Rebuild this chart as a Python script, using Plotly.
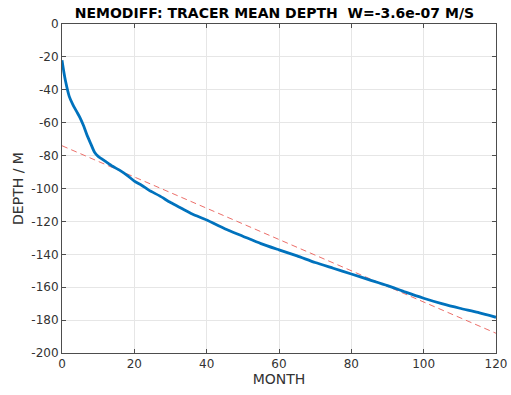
import plotly.graph_objects as go

months = [0, 0.5, 1, 2, 3, 4, 5, 6, 7, 8, 9, 10, 11, 12, 14, 16, 18, 20, 22, 24,
          27, 30, 33, 36, 40, 45, 50, 55, 60, 65, 70, 75, 80, 85, 90, 95, 100,
          105, 110, 115, 120]
depth = [-22, -29, -35, -44, -49, -53, -57, -62, -68, -73, -78, -80.5, -82, -83.5,
         -86.5, -89, -92, -95.5, -98, -101, -104.5, -108.5, -112, -115.5, -119.2,
         -124.5, -129, -133.5, -137.3, -141, -145, -148.5, -152, -155.5, -159,
         -163, -166.7, -170, -172.8, -175.3, -178.3]

fit_months = [0, 120]
fit_depth = [-74, -188]

x_ticks = [0, 20, 40, 60, 80, 100, 120]
y_ticks = [0, -20, -40, -60, -80, -100, -120, -140, -160, -180, -200]

title = "NEMODIFF: TRACER MEAN DEPTH  W=-3.6e-07 M/S"

fig = go.Figure()
fig.add_trace(go.Scatter(x=fit_months, y=fit_depth, mode="lines",
                         line=dict(color="#ec6f6a", width=1, dash="6px,4px"),
                         hoverinfo="skip"))
fig.add_trace(go.Scatter(x=months, y=depth, mode="lines",
                         line=dict(color="#0072BD", width=2.8, shape="spline", smoothing=0.6)))

axis_common = dict(
    showline=True, linecolor="#4d4d4d", linewidth=1, mirror="ticks",
    ticks="inside", ticklen=4, tickcolor="#4d4d4d",
    showgrid=True, gridcolor="#e6e6e6", gridwidth=1, zeroline=False,
    automargin=False,
    tickfont=dict(family="DejaVu Sans", size=12, color="#333333"),
)

fig.update_layout(
    width=511, height=395,
    margin=dict(l=62, r=15, t=24, b=42),
    paper_bgcolor="white", plot_bgcolor="white",
    showlegend=False,
    title=dict(text="<b>" + title + "</b>", x=0.537, xanchor="center",
               y=1 - 13 / 395, yanchor="middle", automargin=False,
               font=dict(family="DejaVu Sans", size=14, color="black")),
    xaxis=dict(range=[0, 120], tickvals=x_ticks, ticktext=[str(v) for v in x_ticks],
               title=dict(text="MONTH", standoff=2,
                          font=dict(family="DejaVu Sans", size=14, color="#333333")),
               **axis_common),
    yaxis=dict(range=[-200, 0], tickvals=y_ticks, ticktext=[str(v) for v in y_ticks],
               title=dict(text="DEPTH / M", standoff=4,
                          font=dict(family="DejaVu Sans", size=14, color="#333333")),
               **axis_common),
)

fig.write_html("out.html")
